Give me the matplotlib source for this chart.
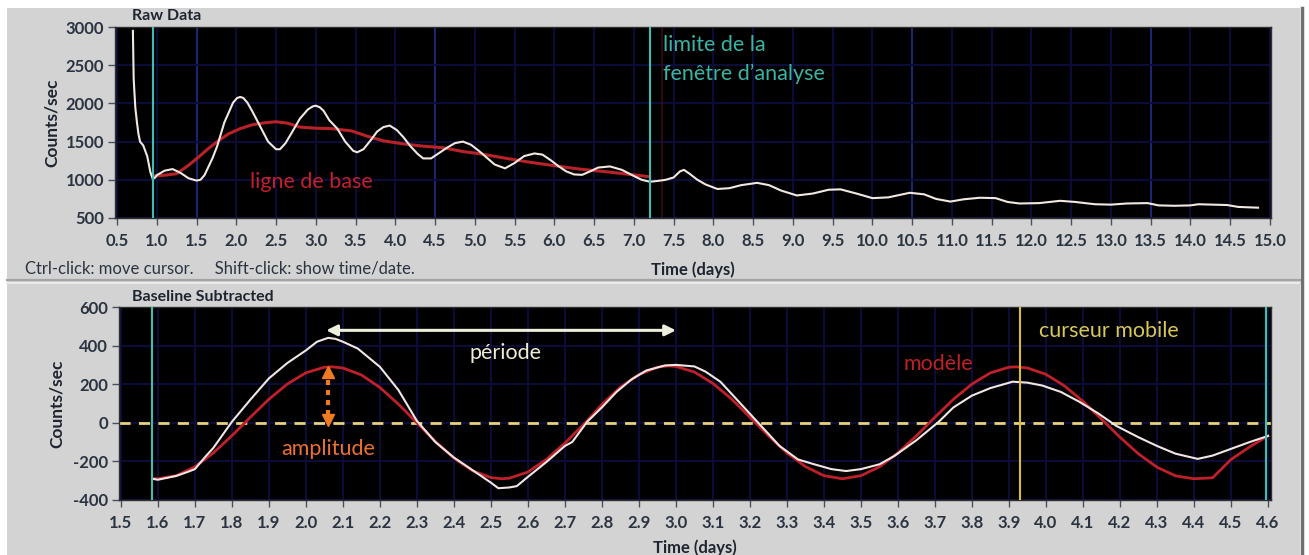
import matplotlib
matplotlib.use("Agg")
import matplotlib.pyplot as plt
from matplotlib.patches import Rectangle
from matplotlib.lines import Line2D

# ---------------- data ----------------
raw_t = [0.70, 0.705, 0.71, 0.73, 0.75, 0.77, 0.79, 0.83, 0.88, 0.92, 0.95, 0.98, 1.00, 1.05, 1.10,
         1.20, 1.30, 1.40, 1.50, 1.55, 1.60, 1.70, 1.76, 1.85, 1.96, 2.01, 2.05, 2.09, 2.14, 2.20,
         2.30, 2.40, 2.50, 2.55, 2.62, 2.70, 2.80, 2.90, 2.96, 3.00, 3.05, 3.10, 3.17, 3.27, 3.37,
         3.47, 3.52, 3.60, 3.70, 3.77, 3.85, 3.93, 4.02, 4.10, 4.19, 4.28, 4.35, 4.45, 4.55, 4.65,
         4.75, 4.85, 4.95, 5.05, 5.15, 5.25, 5.38, 5.50, 5.62, 5.75, 5.85, 5.95, 6.05, 6.15, 6.25,
         6.35, 6.45, 6.55, 6.70, 6.85, 7.00, 7.10, 7.20, 7.30, 7.40, 7.50, 7.58, 7.63, 7.70, 7.80,
         7.90, 8.05, 8.20, 8.35, 8.55, 8.70, 8.85, 9.05, 9.25, 9.45, 9.60, 9.80, 10.00, 10.20, 10.47,
         10.65, 10.80, 10.98, 11.15, 11.35, 11.55, 11.70, 11.85, 12.10, 12.36, 12.55, 12.80, 13.00,
         13.20, 13.46, 13.60, 13.80, 14.00, 14.10, 14.30, 14.46, 14.60, 14.85]
raw_counts = [2950, 2600, 2320, 1950, 1760, 1600, 1500, 1450, 1310, 1100, 1010, 1030, 1060, 1090, 1120,
              1140, 1090, 1020, 990, 1000, 1060, 1280, 1440, 1750, 2010, 2070, 2085, 2070, 2010, 1900,
              1700, 1500, 1400, 1400, 1480, 1620, 1800, 1920, 1960, 1970, 1950, 1900, 1780, 1670, 1500,
              1380, 1360, 1400, 1530, 1630, 1690, 1710, 1650, 1560, 1440, 1340, 1280, 1280, 1350, 1420,
              1480, 1500, 1460, 1380, 1290, 1200, 1150, 1220, 1310, 1345, 1330, 1260, 1180, 1110, 1070,
              1065, 1110, 1160, 1175, 1130, 1050, 1000, 975, 985, 1000, 1030, 1110, 1130, 1080, 1000,
              940, 880, 890, 930, 960, 930, 860, 795, 820, 870, 875, 820, 760, 770, 830,
              810, 750, 715, 745, 765, 760, 710, 690, 695, 725, 710, 680, 675,
              690, 695, 665, 660, 665, 680, 675, 670, 645, 635]

base_t = [0.97, 1.10, 1.25, 1.40, 1.54, 1.65, 1.76, 1.90, 2.05, 2.20, 2.35, 2.50, 2.65, 2.80, 3.00,
          3.20, 3.45, 3.65, 3.85, 4.10, 4.35, 4.60, 4.85, 5.07, 5.40, 5.69, 6.00, 6.32, 6.70, 7.12, 7.20]
base_counts = [1050, 1060, 1080, 1190, 1310, 1410, 1500, 1600, 1670, 1720, 1745, 1760, 1740, 1690, 1675,
               1670, 1640, 1570, 1510, 1470, 1440, 1420, 1370, 1340, 1280, 1230, 1185, 1140, 1100, 1050, 1040]

sub_t = [1.585, 1.60, 1.65, 1.68, 1.70, 1.73, 1.75, 1.80, 1.85, 1.90, 1.95, 2.00, 2.03, 2.06, 2.08,
         2.10, 2.14, 2.20, 2.25, 2.30, 2.35, 2.40, 2.45, 2.50, 2.52, 2.55, 2.57, 2.60, 2.65, 2.70,
         2.72, 2.76, 2.80, 2.84, 2.88, 2.92, 2.97, 3.00, 3.05, 3.08, 3.12, 3.16, 3.22, 3.28, 3.33,
         3.37, 3.42, 3.46, 3.50, 3.55, 3.59, 3.65, 3.71, 3.75, 3.80, 3.85, 3.91, 3.95, 3.99, 4.04,
         4.09, 4.14, 4.19, 4.25, 4.30, 4.35, 4.41, 4.45, 4.50, 4.55, 4.60]
sub_counts = [-290, -295, -275, -255, -240, -172, -130, 5, 120, 230, 310, 375, 420, 440, 435,
              420, 385, 290, 170, 10, -100, -180, -245, -310, -339, -335, -328, -280, -203, -120,
              -99, 5, 80, 161, 225, 271, 297, 300, 292, 265, 213, 130, 5, -120, -190,
              -213, -240, -250, -240, -215, -172, -90, 5, 80, 141, 180, 213, 208, 193, 160,
              109, 50, -16, -75, -120, -160, -187, -170, -135, -100, -68]

model_t = [1.585, 1.60, 1.65, 1.70, 1.75, 1.80, 1.85, 1.90, 1.95, 2.00, 2.05, 2.07, 2.10, 2.15, 2.20,
           2.25, 2.30, 2.35, 2.40, 2.45, 2.50, 2.53, 2.55, 2.60, 2.65, 2.70, 2.755, 2.80, 2.85, 2.90,
           2.95, 2.98, 3.00, 3.05, 3.10, 3.15, 3.20, 3.25, 3.30, 3.35, 3.40, 3.45, 3.50, 3.55, 3.60,
           3.65, 3.70, 3.75, 3.80, 3.85, 3.90, 3.92, 3.95, 4.00, 4.05, 4.10, 4.15, 4.20, 4.25, 4.30,
           4.35, 4.40, 4.45, 4.50, 4.55, 4.60]
model_counts = [-288, -290, -274, -228, -156, -67, 29, 122, 201, 259, 288, 290, 284, 248, 183,
                97, 0, -97, -183, -248, -284, -290, -287, -255, -190, -105, 0, 95, 185, 250,
                288, 295, 292, 263, 204, 124, 29, -67, -156, -227, -274, -290, -274, -228, -156,
                -67, 29, 122, 201, 259, 288, 290, 284, 251, 191, 111, 19, -75, -161, -230,
                -275, -290, -285, -190, -125, -68]

raw_xticks = [0.5 + 0.5 * i for i in range(30)]
raw_yticks = [500, 1000, 1500, 2000, 2500, 3000]
sub_xticks = [round(1.5 + 0.1 * i, 1) for i in range(32)]
sub_yticks = [-400, -200, 0, 200, 400, 600]

window_start, window_end = 0.95, 7.20
sub_start, sub_end = 1.585, 4.595
cursor_t = 3.93

# ---------------- figure ----------------
W, H = 1309, 555
fig = plt.figure(figsize=(W / 100, H / 100), dpi=100, facecolor="white")
FONT = ["Lato", "DejaVu Sans"]
plt.rcParams["font.family"] = FONT

def fx(x):
    return x / W

def fy(y):
    return 1 - y / H

# panel background
fig.patches.append(Rectangle((fx(7), 0), fx(1300) - fx(7), fy(8), transform=fig.transFigure,
                             facecolor="#d3d3d3", edgecolor="none", zorder=-10))
fig.add_artist(Line2D([fx(7), fx(1300)], [fy(280), fy(280)], color="#a4a4a4", lw=1.6))
fig.add_artist(Line2D([fx(7), fx(1300)], [fy(283), fy(283)], color="#ececec", lw=1.4))
fig.add_artist(Line2D([fx(1302), fx(1302)], [fy(8), 0], color="#707070", lw=2.5))

ax1 = fig.add_axes([fx(115), fy(218), fx(1271) - fx(115), fy(27) - fy(218)])
ax2 = fig.add_axes([fx(119), fy(500), fx(1271) - fx(119), fy(307) - fy(500)])

GRID = "#0d0d3c"
GRID2 = "#1b2778"
TICKC = "#2b3440"
LABC = "#1e2530"
TSIZE = 12

for ax in (ax1, ax2):
    ax.set_facecolor("black")
    for s in ax.spines.values():
        s.set_color("#303030")
        s.set_linewidth(1.0)
    ax.tick_params(axis="both", direction="out", length=5, width=1, color="#4a5060",
                   labelsize=TSIZE, labelcolor=TICKC, pad=3)
    ax.tick_params(axis="x", pad=6)

# ---- top panel ----
ax1.set_xlim(0.475, 15.013)
ax1.set_ylim(500, 3000)
ax1.set_xticks(raw_xticks)
ax1.set_xticklabels([f"{v:.1f}" for v in raw_xticks], fontweight="bold")
ax1.set_yticks(raw_yticks)
ax1.set_yticklabels([str(v) for v in raw_yticks], fontweight="bold")
for v in raw_xticks:
    c = GRID2 if v in (1.5, 4.5, 10.5, 13.5) else GRID
    ax1.axvline(v, color=c, lw=1.4, zorder=0)
for v in raw_yticks:
    ax1.axhline(v, color=GRID, lw=1.4, zorder=0)
ax1.axvline(7.36, color="#3a0c12", lw=1.2, zorder=1)

ax1.plot(base_t, base_counts, color="#b82228", lw=2.2, zorder=3)
ax1.plot(raw_t, raw_counts, color="#f2e8e2", lw=1.5, zorder=4)
ax1.axvline(window_start, color="#3cc0ae", lw=1.5, zorder=5)
ax1.axvline(window_end, color="#3cc0ae", lw=1.5, zorder=5)

ANN = 15.5
ax1.text(7.37, 2765, "limite de la", color="#3cb4a4", fontsize=ANN, va="center", ha="left")
ax1.text(7.37, 2390, "fenêtre d’analyse", color="#3cb4a4", fontsize=ANN, va="center", ha="left")
ax1.text(2.17, 965, "ligne de base", color="#c42028", fontsize=ANN, va="center", ha="left")

ax1.set_xlabel("Time (days)", fontsize=12, fontweight="bold", color=LABC, labelpad=9)
ax1.set_ylabel("Counts/sec", fontsize=12.5, fontweight="bold", color=LABC, labelpad=4)
fig.text(fx(132), fy(16), "Raw Data", fontsize=11.5, fontweight="bold", color=LABC,
         ha="left", va="center")
fig.text(fx(25), fy(268), "Ctrl-click: move cursor.     Shift-click: show time/date.", fontsize=12,
         color="#2a3440", ha="left", va="center")

# ---- bottom panel ----
ax2.set_xlim(1.495, 4.608)
ax2.set_ylim(-400, 600)
ax2.set_xticks(sub_xticks)
ax2.set_xticklabels([f"{v:.1f}" for v in sub_xticks], fontweight="bold")
ax2.set_yticks(sub_yticks)
ax2.set_yticklabels([str(v) for v in sub_yticks], fontweight="bold")
for v in sub_xticks:
    ax2.axvline(v, color=GRID, lw=1.4, zorder=0)
for v in sub_yticks:
    ax2.axhline(v, color=GRID, lw=1.4, zorder=0)

ax2.axhline(0, color="#e8d27a", lw=2.0, ls=(0, (4, 3)), zorder=2)
ax2.plot(model_t, model_counts, color="#c0202a", lw=2.0, zorder=3)
ax2.plot(sub_t, sub_counts, color="#f0e6e4", lw=1.5, zorder=4)
ax2.axvline(sub_start, color="#3cc0ae", lw=1.5, zorder=5)
ax2.axvline(sub_end, color="#3cc0ae", lw=1.5, zorder=5)
ax2.axvline(cursor_t, color="#d8c030", lw=1.5, zorder=5)

ax2.annotate("", xy=(2.055, 479), xytext=(3.0, 479),
             arrowprops=dict(arrowstyle="<|-|>", color="#eeeedc", lw=2.2, mutation_scale=16,
                             shrinkA=0, shrinkB=0), zorder=6)
ax2.text(2.54, 362, "période", color="#eeecd6", fontsize=ANN, ha="center", va="center")
ax2.plot([2.06, 2.06], [40, 235], color="#f07a22", lw=3, ls=(0, (1.2, 1.2)), zorder=6)
ax2.plot([2.06], [262], marker="^", color="#f07a22", markersize=9, zorder=6)
ax2.plot([2.06], [14], marker="v", color="#f07a22", markersize=9, zorder=6)
ax2.text(2.06, -135, "amplitude", color="#ec7030", fontsize=ANN, ha="center", va="center")
ax2.text(3.71, 305, "modèle", color="#c02028", fontsize=ANN, ha="center", va="center")
ax2.text(4.17, 474, "curseur mobile", color="#d8c858", fontsize=ANN, ha="center", va="center")

ax2.set_xlabel("Time (days)", fontsize=12, fontweight="bold", color=LABC, labelpad=6)
ax2.set_ylabel("Counts/sec", fontsize=12.5, fontweight="bold", color=LABC, labelpad=6)
fig.text(fx(132), fy(297), "Baseline Subtracted", fontsize=11.5, fontweight="bold", color=LABC,
         ha="left", va="center")

fig.savefig("out.png", dpi=100, facecolor=fig.get_facecolor())
